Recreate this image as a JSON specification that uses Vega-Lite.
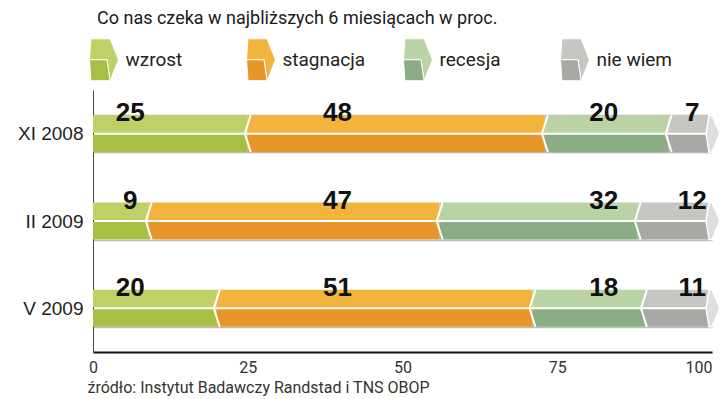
{
  "$schema": "https://vega.github.io/schema/vega-lite/v6.json",
  "width": 619,
  "height": 262,
  "autosize": {"type": "none"},
  "padding": {"left": 93, "top": 90, "right": 8, "bottom": 47},
  "background": "white",
  "config": {"view": {"stroke": null}},
  "title": {
    "text": "Co nas czeka w najbliższych 6 miesiącach w proc.",
    "anchor": "start",
    "frame": "group",
    "font": "Roboto",
    "fontSize": 18,
    "fontWeight": "normal",
    "color": "#1a1a1a",
    "dx": 4,
    "offset": 10
  },
  "data": {
    "values": [
      {"okres": "XI 2008", "kategoria": "wzrost", "wartosc": 25},
      {"okres": "XI 2008", "kategoria": "stagnacja", "wartosc": 48},
      {"okres": "XI 2008", "kategoria": "recesja", "wartosc": 20},
      {"okres": "XI 2008", "kategoria": "nie wiem", "wartosc": 7},
      {"okres": "II 2009", "kategoria": "wzrost", "wartosc": 9},
      {"okres": "II 2009", "kategoria": "stagnacja", "wartosc": 47},
      {"okres": "II 2009", "kategoria": "recesja", "wartosc": 32},
      {"okres": "II 2009", "kategoria": "nie wiem", "wartosc": 12},
      {"okres": "V 2009", "kategoria": "wzrost", "wartosc": 20},
      {"okres": "V 2009", "kategoria": "stagnacja", "wartosc": 51},
      {"okres": "V 2009", "kategoria": "recesja", "wartosc": 18},
      {"okres": "V 2009", "kategoria": "nie wiem", "wartosc": 11}
    ]
  },
  "transform": [
    {"calculate": "indexof(['wzrost','stagnacja','recesja','nie wiem'], datum.kategoria)", "as": "kolejnosc"},
    {"stack": "wartosc", "groupby": ["okres"], "sort": [{"field": "kolejnosc", "order": "ascending"}], "as": ["x0", "x1"]},
    {"calculate": "datum.kategoria", "as": "kat"}
  ],
  "encoding": {
    "y": {
      "field": "okres",
      "type": "nominal",
      "scale": {"domain": ["XI 2008", "II 2009", "V 2009"], "paddingInner": 0.576, "paddingOuter": 0.288},
      "axis": {
        "title": null,
        "ticks": false,
        "domainColor": "#444",
        "domainWidth": 1,
        "grid": true,
        "tickBand": "extent",
        "gridColor": "#bdbdbd",
        "gridWidth": 1.5,
        "labelFont": "Liberation Sans",
        "labelFontSize": 19,
        "labelColor": "#222",
        "labelPadding": 10
      }
    }
  },
  "layer": [
    {
      "mark": {"type": "bar", "height": 17.5, "yOffset": -9.75, "strokeWidth": 0},
      "encoding": {
        "x": {
          "field": "x0",
          "type": "quantitative",
          "scale": {"domain": [0, 100], "nice": false},
          "axis": {
            "values": [0, 25, 50, 75, 100],
            "ticks": false,
            "grid": false,
            "domainColor": "#111",
            "domainWidth": 2,
            "labelFont": "Roboto",
            "labelFontSize": 16,
            "labelColor": "#333",
            "labelPadding": 7,
            "labelFlush": false,
            "labelAlign": {"condition": {"test": "datum.value == 100", "value": "right"}, "value": "center"},
            "title": "źródło: Instytut Badawczy Randstad i TNS OBOP",
            "titleFont": "Roboto",
            "titleFontSize": 16,
            "titleFontWeight": "normal",
            "titleColor": "#333",
            "titleAnchor": "start",
            "titleAlign": "left",
            "titleX": -6,
            "titlePadding": 4
          }
        },
        "x2": {"field": "x1"},
        "color": {
          "field": "kategoria",
          "type": "nominal",
          "scale": {
            "domain": ["wzrost", "stagnacja", "recesja", "nie wiem"],
            "range": ["#bed066", "#f2b43c", "#b9d3a5", "#c6c7c2"]
          },
          "legend": {
            "orient": "none",
            "legendX": -10.5,
            "legendY": -52,
            "direction": "horizontal",
            "title": null,
            "symbolType": "M -0.62,-1 L 0.29,-1 L 0.69,0 L 0.29,1 L 0.14,0 L -0.69,0 Z",
            "symbolSize": 1764,
            "symbolStrokeColor": "white",
            "symbolStrokeWidth": 1,
            "symbolOpacity": 1,
            "labelFont": "Roboto",
            "labelFontSize": 19,
            "labelColor": "#222",
            "labelOffset": 0,
            "columnPadding": 31,
            "gridAlign": "all",
            "padding": 0
          }
        }
      }
    },
    {
      "mark": {"type": "bar", "height": 17.5, "yOffset": 9.75, "strokeWidth": 0},
      "encoding": {
        "x": {"field": "x0", "type": "quantitative"},
        "x2": {"field": "x1"},
        "fill": {
          "field": "kat",
          "type": "nominal",
          "sort": ["wzrost", "stagnacja", "recesja", "nie wiem"],
          "scale": {"range": ["#a7bf44", "#e8952a", "#8aad85", "#a7a9a4"]},
          "legend": {
            "orient": "none",
            "legendX": -10.5,
            "legendY": -52,
            "direction": "horizontal",
            "title": null,
            "symbolType": "M -0.69,0 L 0.14,0 L 0.29,1 L -0.62,1 Z",
            "symbolSize": 1764,
            "symbolStrokeColor": "white",
            "symbolStrokeWidth": 1,
            "symbolOpacity": 1,
            "labelFont": "Roboto",
            "labelFontSize": 19,
            "labelColor": "#222",
            "labelOpacity": 0,
            "labelOffset": 0,
            "columnPadding": 31,
            "gridAlign": "all",
            "padding": 0
          }
        }
      }
    },
    {
      "transform": [{"filter": "datum.kolejnosc > 0"}],
      "mark": {
        "type": "point",
        "shape": "M 0.16,-1 L -0.16,0 L 0.16,1",
        "filled": false,
        "stroke": "white",
        "strokeWidth": 2,
        "opacity": 1,
        "size": 1369
      },
      "encoding": {"x": {"field": "x0", "type": "quantitative"}}
    },
    {
      "transform": [{"filter": "datum.kategoria == 'nie wiem'"}],
      "mark": {
        "type": "point",
        "shape": "M -0.16,-1 L 0,-1 L 0.43,0 L 0,1 L -0.16,1 L -0.32,0 Z",
        "filled": true,
        "fill": "#dedede",
        "stroke": "white",
        "strokeWidth": 1.5,
        "opacity": 1,
        "size": 1369
      },
      "encoding": {"x": {"datum": 100, "type": "quantitative"}}
    },
    {
      "transform": [{"filter": "datum.kategoria == 'wzrost'"}],
      "mark": {"type": "text", "font": "Liberation Sans", "fontWeight": "bold", "fontSize": 26, "color": "#111", "baseline": "alphabetic", "align": "center", "dy": -12.5},
      "encoding": {"x": {"datum": 6, "type": "quantitative"}, "text": {"field": "wartosc", "type": "quantitative"}}
    },
    {
      "transform": [{"filter": "datum.kategoria == 'stagnacja'"}],
      "mark": {"type": "text", "font": "Liberation Sans", "fontWeight": "bold", "fontSize": 26, "color": "#111", "baseline": "alphabetic", "align": "center", "dy": -12.5},
      "encoding": {"x": {"datum": 39.5, "type": "quantitative"}, "text": {"field": "wartosc", "type": "quantitative"}}
    },
    {
      "transform": [{"filter": "datum.kategoria == 'recesja'"}],
      "mark": {"type": "text", "font": "Liberation Sans", "fontWeight": "bold", "fontSize": 26, "color": "#111", "baseline": "alphabetic", "align": "center", "dy": -12.5},
      "encoding": {"x": {"datum": 82.5, "type": "quantitative"}, "text": {"field": "wartosc", "type": "quantitative"}}
    },
    {
      "transform": [{"filter": "datum.kategoria == 'nie wiem'"}],
      "mark": {"type": "text", "font": "Liberation Sans", "fontWeight": "bold", "fontSize": 26, "color": "#111", "baseline": "alphabetic", "align": "center", "dy": -12.5},
      "encoding": {"x": {"datum": 96.8, "type": "quantitative"}, "text": {"field": "wartosc", "type": "quantitative"}}
    }
  ]
}
